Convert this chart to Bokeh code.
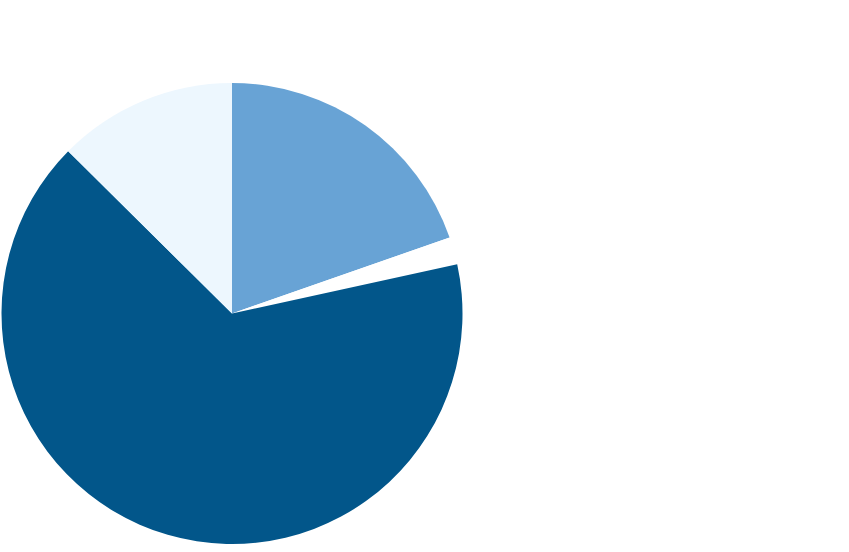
import math
from bokeh.plotting import figure
from bokeh.models import ColumnDataSource, Range1d
from bokeh.embed import file_html
from bokeh.resources import INLINE

categories = ["A", "B", "C", "D"]
values = [19.65, 1.93, 65.84, 12.58]
colors = ["#68a3d5", "#ffffff", "#02568a", "#edf7fe"]

total = sum(values)
starts, ends = [], []
acc = 0.0
for v in values:
    starts.append(math.pi / 2 - 2 * math.pi * acc / total)
    acc += v
    ends.append(math.pi / 2 - 2 * math.pi * acc / total)

src = ColumnDataSource(dict(cat=categories, val=values, color=colors,
                            start=starts, end=ends))

W, H = 849, 552
p = figure(width=W, height=H, output_backend="svg", toolbar_location=None,
           x_range=Range1d(0, W), y_range=Range1d(0, H), min_border=0)
p.styles = {"margin-left": "-8px", "margin-top": "-8px"}
p.axis.visible = False
p.grid.visible = False
p.outline_line_color = None
p.background_fill_color = "white"
p.border_fill_color = "white"

cx, cy, r = 239.5, H - 321.0, 230.5
p.wedge(x=cx, y=cy, radius=r, start_angle="start", end_angle="end",
        direction="clock", fill_color="color", line_color=None, source=src)

open("out.html", "w").write(file_html(p, INLINE))
